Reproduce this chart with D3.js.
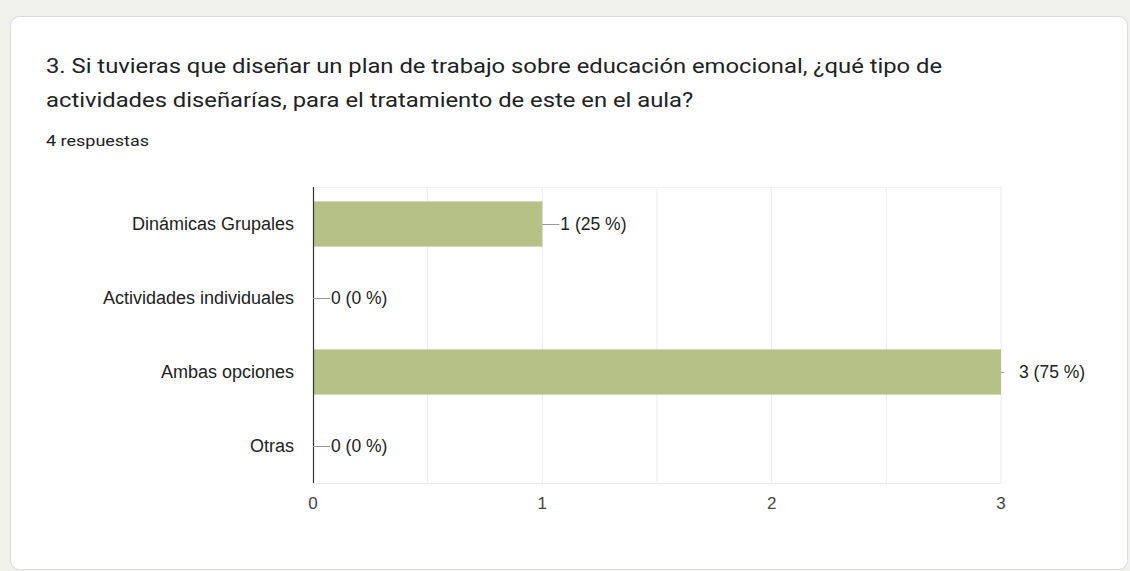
<!DOCTYPE html>
<html>
<head>
<meta charset="utf-8">
<script src="https://cdn.jsdelivr.net/npm/d3@7"></script>
<style>
  body { margin: 0; background: #f0f1ea; }
  svg { display: block; }
</style>
</head>
<body>
<script>
// chart data
const categories = ["Dinámicas Grupales", "Actividades individuales", "Ambas opciones", "Otras"];
const counts = [1, 0, 3, 0];
const percents = [25, 0, 75, 0];
const xTicks = [0, 1, 2, 3];

const width = 1130, height = 571;
const margin = {top: 187, right: 129, bottom: 88, left: 313};
const labelFont = "'Liberation Sans', Arial, sans-serif";

const svg = d3.select("body")
  .append("svg")
  .attr("width", width)
  .attr("height", height);

// card
svg.append("rect")
  .attr("x", 10.5).attr("y", 16.5)
  .attr("width", 1117).attr("height", 553)
  .attr("rx", 9)
  .attr("fill", "#fff")
  .attr("stroke", "#dadce0");

// title (screenshot is a bit stretched sideways)
const title = svg.append("text")
  .attr("transform", "translate(46,0) scale(1.19,1)")
  .attr("font-family", "Roboto, sans-serif")
  .attr("font-size", "20px")
  .attr("fill", "#202124");
title.append("tspan").attr("x", 0).attr("y", 73)
  .text("3. Si tuvieras que diseñar un plan de trabajo sobre educación emocional, ¿qué tipo de");
title.append("tspan").attr("x", 0).attr("y", 107)
  .text("actividades diseñarías, para el tratamiento de este en el aula?");

svg.append("text")
  .attr("transform", "translate(46,146) scale(1.2,1)")
  .attr("font-family", "Roboto, sans-serif")
  .attr("font-size", "15px")
  .attr("fill", "#202124")
  .text("4 respuestas");

// scales
let xScale = d3.scaleLinear()
  .domain([0, 3])
  .range([margin.left, width - margin.right]);

let yScale = d3.scaleBand()
  .domain(categories)
  .range([margin.top, height - margin.bottom])
  .paddingInner(0.39)
  .paddingOuter(0.195);

// gridlines every 0.5
svg.append("g")
  .selectAll("line")
  .data(d3.range(0.5, 3.01, 0.5))
  .enter()
  .append("line")
    .attr("x1", d => xScale(d)).attr("x2", d => xScale(d))
    .attr("y1", margin.top).attr("y2", height - margin.bottom)
    .attr("stroke", "#ebebeb");

svg.append("line")
  .attr("x1", margin.left).attr("x2", xScale(3))
  .attr("y1", margin.top + 0.5).attr("y2", margin.top + 0.5)
  .attr("stroke", "#f3f3f3");
svg.append("line")
  .attr("x1", margin.left).attr("x2", xScale(3))
  .attr("y1", height - margin.bottom + 0.5).attr("y2", height - margin.bottom + 0.5)
  .attr("stroke", "#ebebeb");

// bars
svg.selectAll(".bar")
  .data(counts)
  .enter()
  .append("rect")
    .attr("class", "bar")
    .attr("x", xScale(0))
    .attr("y", (d, i) => yScale(categories[i]))
    .attr("width", d => xScale(d) - xScale(0))
    .attr("height", yScale.bandwidth())
    .attr("fill", "#b5c186");

// y axis line
svg.append("line")
  .attr("x1", margin.left + 0.5).attr("x2", margin.left + 0.5)
  .attr("y1", margin.top).attr("y2", height - margin.bottom)
  .attr("stroke", "#333")
  .attr("stroke-width", 1.2);

// category labels
svg.append("g")
  .selectAll("text")
  .data(categories)
  .enter()
  .append("text")
    .attr("x", margin.left - 19)
    .attr("y", d => yScale(d) + yScale.bandwidth() / 2)
    .attr("dy", "0.35em")
    .attr("text-anchor", "end")
    .attr("font-family", labelFont)
    .attr("font-size", "18px")
    .attr("fill", "#222")
    .text(d => d);

// value annotations
const ann = svg.append("g");
counts.forEach((v, i) => {
  const cy = yScale(categories[i]) + yScale.bandwidth() / 2;
  const x0 = xScale(v);
  const full = v === d3.max(counts);
  ann.append("line")
    .attr("x1", x0).attr("x2", x0 + (full ? 3 : 17))
    .attr("y1", cy + 0.5).attr("y2", cy + 0.5)
    .attr("stroke", "#999");
  ann.append("text")
    .attr("x", x0 + 18)
    .attr("y", cy)
    .attr("dy", "0.35em")
    .attr("font-family", labelFont)
    .attr("font-size", "17.5px")
    .attr("fill", "#222")
    .text(v + " (" + percents[i] + " %)");
});

// x tick labels
svg.append("g")
  .selectAll("text")
  .data(xTicks)
  .enter()
  .append("text")
    .attr("x", d => xScale(d))
    .attr("y", 509)
    .attr("text-anchor", "middle")
    .attr("font-family", labelFont)
    .attr("font-size", "17px")
    .attr("fill", "#444")
    .text(d => d);
</script>
</body>
</html>
